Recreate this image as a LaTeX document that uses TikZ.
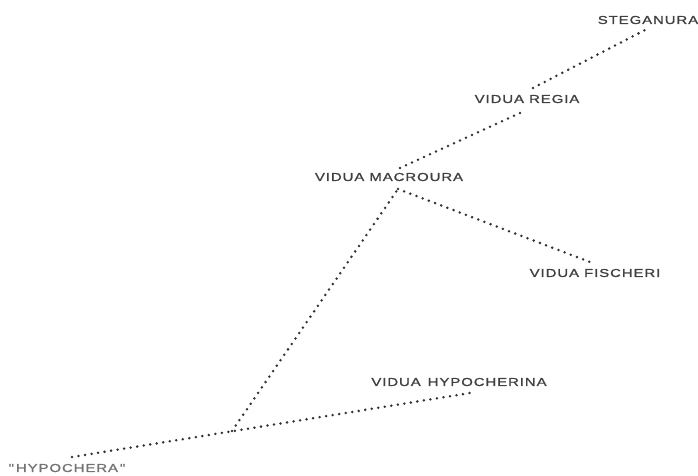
\documentclass[tikz,border=0pt]{standalone}
\usepackage{fontspec}
\usepackage{tikz}
\usetikzlibrary{positioning,calc}
\usepackage{xcolor}
\newfontfamily\taxonfont[LetterSpace=8,FakeStretch=1.3,FakeBold=1.2]{Liberation Sans}

\tikzset{
  taxon/.style={font=\taxonfont\fontsize{11.5}{12}\selectfont, text=black!75, inner sep=0pt},
  dotline/.style={draw=black!80, line width=2.8pt, line cap=round, dash pattern=on 0pt off 6.6pt}
}

\begin{document}
\begin{tikzpicture}[x=1pt,y=-1pt]
  \useasboundingbox (0,0) rectangle (698,475);
  % taxa
  \node[taxon] (steg) at (648,20) {STEGANURA};
  \node[taxon] (regia) at (527,99) {VIDUA REGIA};
  \node[taxon] (macr) at (389,177) {VIDUA MACROURA};
  \node[taxon] (fisch) at (595,273) {VIDUA FISCHERI};
  \node[taxon] (hyprina) at (459,382) {VIDUA\, HYPOCHERINA};
  \node[taxon, text=black!55] (hyp) at (67,468) {"\,HYPOCHERA\,"};
  % branch points
  \coordinate (root) at (72,457);
  \coordinate (fork) at (232,431);
  \coordinate (mfork) at (398,189);
  \coordinate (hypend) at (470,393);
  \coordinate (fischend) at (590,262);
  \coordinate (mtop) at (400,168);
  \coordinate (rlow) at (522,112);
  \coordinate (rtop) at (533,88);
  \coordinate (stegend) at (645,30);
  % branches
  \draw[dotline] (root) -- (hypend);
  \draw[dotline] (fork) -- (mfork);
  \draw[dotline] (mfork) -- (fischend);
  \draw[dotline] (mtop) -- (rlow);
  \draw[dotline] (rtop) -- (stegend);
\end{tikzpicture}
\end{document}
